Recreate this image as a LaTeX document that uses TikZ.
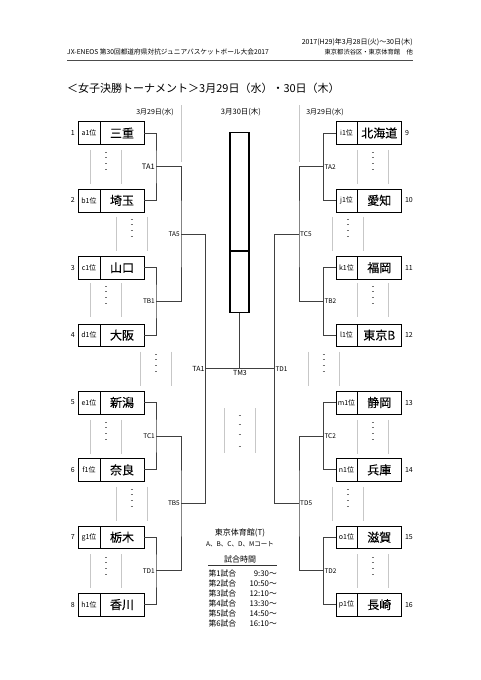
\documentclass[tikz,border=0pt]{standalone}
\usepackage{fontspec}
\setmainfont{Noto Sans CJK JP}
\newfontfamily\heavy{Noto Sans CJK JP}[FakeBold=0.2]
\usetikzlibrary{positioning}
\newcommand{\gapmark}[2]{% pale lines with short dashes between two boxes
  \draw[gapln] (#1,#2) -- ++(0,34) (#1+31,#2) -- ++(0,34);
  \foreach \d in {3,8,14,20} \draw[gapdash] (#1+14.5,#2+\d) -- ++(2,0);}
\newcommand{\fs}[1]{\fontsize{#1}{#1}\selectfont}

\begin{document}
\begin{tikzpicture}[x=1pt, y=-1pt, font=\fs{7},
  nm/.style={draw, minimum width=44pt, minimum height=22.7pt, inner sep=0pt, outer sep=0pt, font=\heavy\fs{12}},
  rk/.style={draw, minimum width=22pt, minimum height=22.7pt, inner sep=0pt, outer sep=0pt, font=\fs{7}},
  num/.style={inner sep=0pt, font=\fs{7}},
  tag/.style={inner sep=1pt, font=\fs{6.5}},
  txt/.style={inner sep=0pt},
  ln/.style={draw=black!75, line width=0.9pt},
  fin/.style={draw, line width=1.4pt, minimum width=19pt, inner sep=0pt, outer sep=0pt},
  gapln/.style={black!22, line width=0.8pt},
  gapdash/.style={black!55, line width=0.6pt}]
\useasboundingbox (0,0) rectangle (481,680);
% header
\node[txt, anchor=east, font=\fs{7}] (period) at (413,42) {2017(H29)年3月28日(火)～30日(木)};
\node[txt, anchor=west, font=\fs{6.7}] (event) at (67,52) {JX-ENEOS 第30回都道府県対抗ジュニアバスケットボール大会2017};
\node[txt, anchor=east, font=\fs{6.3}] (venue) at (413,52) {東京都渋谷区・東京体育館　他};
\draw[black!70, line width=1.2pt] (67,60.7) -- (413,60.7);
\node[txt, anchor=west, font=\fs{11}] (title) at (67,88) {＜女子決勝トーナメント＞3月29日（水）・30日（木）};
\node[txt] (d29l) at (155,112) {3月29日(水)};
\node[txt, font=\fs{7.5}] (d30) at (241,112) {3月30日(木)};
\node[txt] (d29r) at (325,112) {3月29日(水)};
\draw[gapln] (181,105) -- (181,162); \draw[gapln] (299,105) -- (299,162);
% left half
\node[nm] (mie) at (122,133) {三重}; \node[rk, left=0pt of mie] (a1) {a1位}; \node[num, left=3pt of a1] (s1) {1};
\node[nm] (saitama) at (122,200.4) {埼玉}; \node[rk, left=0pt of saitama] (b1) {b1位}; \node[num, left=3pt of b1] (s2) {2};
\node[nm] (yamaguchi) at (122,267.7) {山口}; \node[rk, left=0pt of yamaguchi] (c1) {c1位}; \node[num, left=3pt of c1] (s3) {3};
\node[nm] (osaka) at (122,335.1) {大阪}; \node[rk, left=0pt of osaka] (d1) {d1位}; \node[num, left=3pt of d1] (s4) {4};
\node[nm] (niigata) at (122,402.5) {新潟}; \node[rk, left=0pt of niigata] (e1) {e1位}; \node[num, left=3pt of e1] (s5) {5};
\node[nm] (nara) at (122,469.9) {奈良}; \node[rk, left=0pt of nara] (f1) {f1位}; \node[num, left=3pt of f1] (s6) {6};
\node[nm] (tochigi) at (122,537.2) {栃木}; \node[rk, left=0pt of tochigi] (g1) {g1位}; \node[num, left=3pt of g1] (s7) {7};
\node[nm] (kagawa) at (122,604.6) {香川}; \node[rk, left=0pt of kagawa] (h1) {h1位}; \node[num, left=3pt of h1] (s8) {8};
\node[tag, anchor=east, font=\fs{7.5}] (ta1) at (156,166.7) {TA1};
\node[tag, anchor=east] (tb1) at (156,301.4) {TB1};
\node[tag, anchor=east] (tc1) at (156,436.2) {TC1};
\node[tag, anchor=east] (td1) at (156,570.9) {TD1};
\node[tag, anchor=east] (ta5) at (181,234) {TA5};
\node[tag, anchor=east] (tb5) at (181,503.5) {TB5};
\node[tag, anchor=east, font=\fs{7}] (fa1) at (205.7,368.8) {TA1};
\draw[ln] (mie.east) -| (ta1.east) |- (saitama.east);
\draw[ln] (yamaguchi.east) -| (tb1.east) |- (osaka.east);
\draw[ln] (niigata.east) -| (tc1.east) |- (nara.east);
\draw[ln] (tochigi.east) -| (td1.east) |- (kagawa.east);
\draw[ln] (ta1.east) -| (ta5.east) |- (tb1.east);
\draw[ln] (tc1.east) -| (tb5.east) |- (td1.east);
\draw[ln] (ta5.east) -| (fa1.east) |- (tb5.east);
% right half
\node[nm] (hokkaido) at (379.3,133) {北海道}; \node[rk, minimum width=21.6pt, left=0pt of hokkaido] (i1) {i1位}; \node[num, right=3.5pt of hokkaido] (s9) {9};
\node[nm] (aichi) at (379.3,200.4) {愛知}; \node[rk, minimum width=21.6pt, left=0pt of aichi] (j1) {j1位}; \node[num, right=3.5pt of aichi] (s10) {10};
\node[nm] (fukuoka) at (379.3,267.7) {福岡}; \node[rk, minimum width=21.6pt, left=0pt of fukuoka] (k1) {k1位}; \node[num, right=3.5pt of fukuoka] (s11) {11};
\node[nm] (tokyob) at (379.3,335.1) {東京B}; \node[rk, minimum width=21.6pt, left=0pt of tokyob] (l1) {l1位}; \node[num, right=3.5pt of tokyob] (s12) {12};
\node[nm] (shizuoka) at (379.3,402.5) {静岡}; \node[rk, minimum width=21.6pt, left=0pt of shizuoka] (m1) {m1位}; \node[num, right=3.5pt of shizuoka] (s13) {13};
\node[nm] (hyogo) at (379.3,469.9) {兵庫}; \node[rk, minimum width=21.6pt, left=0pt of hyogo] (n1) {n1位}; \node[num, right=3.5pt of hyogo] (s14) {14};
\node[nm] (shiga) at (379.3,537.2) {滋賀}; \node[rk, minimum width=21.6pt, left=0pt of shiga] (o1) {o1位}; \node[num, right=3.5pt of shiga] (s15) {15};
\node[nm] (nagasaki) at (379.3,604.6) {長崎}; \node[rk, minimum width=21.6pt, left=0pt of nagasaki] (p1) {p1位}; \node[num, right=3.5pt of nagasaki] (s16) {16};
\node[tag, anchor=west] (ta2) at (323.3,166.7) {TA2};
\node[tag, anchor=west] (tb2) at (323.3,301.4) {TB2};
\node[tag, anchor=west] (tc2) at (323.3,436.2) {TC2};
\node[tag, anchor=west] (td2) at (323.3,570.9) {TD2};
\node[tag, anchor=west] (tc5) at (299,234) {TC5};
\node[tag, anchor=west] (td5) at (299,503.5) {TD5};
\node[tag, anchor=west] (fd1) at (274.3,368.8) {TD1};
\draw[ln] (i1.west) -| (ta2.west) |- (j1.west);
\draw[ln] (k1.west) -| (tb2.west) |- (l1.west);
\draw[ln] (m1.west) -| (tc2.west) |- (n1.west);
\draw[ln] (o1.west) -| (td2.west) |- (p1.west);
\draw[ln] (ta2.west) -| (tc5.west) |- (tb2.west);
\draw[ln] (tc2.west) -| (td5.west) |- (td2.west);
\draw[ln] (tc5.west) -| (fd1.west) |- (td5.west);
% final
\node[fin, minimum height=118.3pt] (win) at (239.5,191.85) {};
\node[fin, minimum height=61.7pt, below=0pt of win] (run) {};
\node[tag, below, font=\fs{7}] (tm3) at (240,369.5) {TM3};
\draw[ln] (fa1.east) -- (fd1.west);
\draw[ln] (run.south) -- (run.south |- fa1.east);
% pale gaps
\gapmark{90.7}{149.5} \gapmark{116}{216.5} \gapmark{90.7}{283} \gapmark{140.7}{351.5}
\gapmark{90.7}{419.5} \gapmark{116}{486.5} \gapmark{90.7}{554}
\gapmark{357.3}{149.5} \gapmark{332.3}{216.5} \gapmark{357.3}{283} \gapmark{308}{351.5}
\gapmark{357.3}{419.5} \gapmark{332.3}{486.5} \gapmark{357.3}{554}
\draw[gapln] (224.3,408.3) -- (224.3,452.7) (255,408.3) -- (255,452.7);
\foreach \d in {415.7,424.3,434.3,446.7} \draw[gapdash] (238.5,\d) -- ++(2,0);
% schedule
\node[txt, font=\fs{8}] (gym) at (240,533.3) {東京体育館(T)};
\node[txt, font=\fs{6.5}] (court) at (240,544.3) {A、B、C、D、Mコート};
\node[txt, font=\fs{8}] (sched) at (240,559.3) {試合時間};
\draw[black!80, line width=0.8pt] (208.3,565) -- (276.7,565);
\foreach \i/\t in {1/9:30～, 2/10:50～, 3/12:10～, 4/13:30～, 5/14:50～, 6/16:10～} {
  \node[txt, anchor=west, font=\fs{7.8}] (g\i) at (208.3,563.5+10*\i) {第{\i}試合};
  \node[txt, anchor=east, font=\fs{7.8}] (t\i) at (277,563.5+10*\i) {\t};}
\end{tikzpicture}
\end{document}
